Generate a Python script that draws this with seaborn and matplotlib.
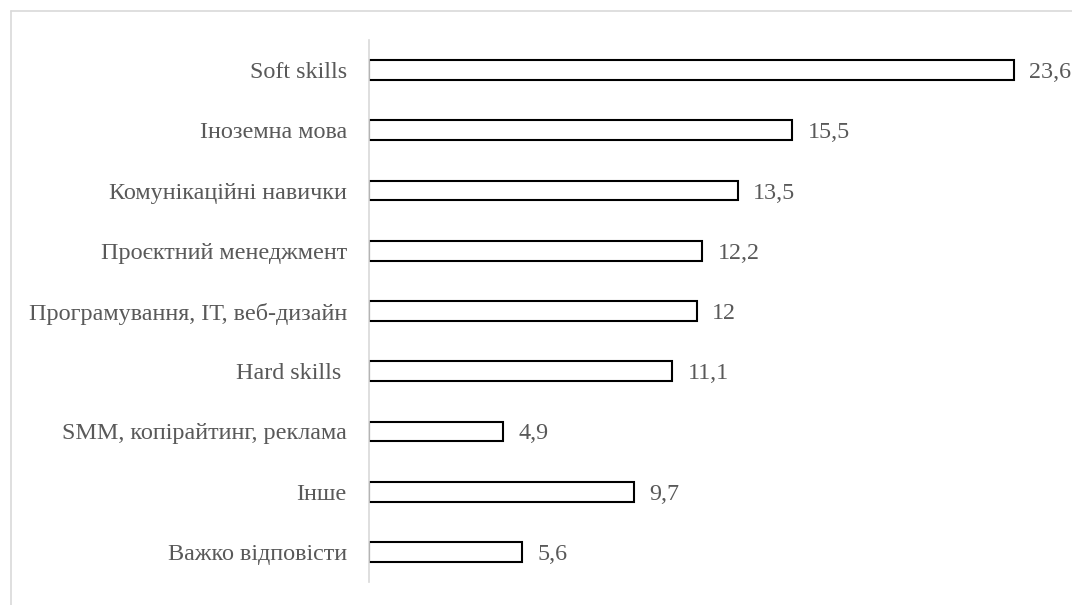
import matplotlib
matplotlib.use('Agg')
import matplotlib.pyplot as plt
import seaborn as sns
import pandas as pd
from matplotlib.lines import Line2D

# Categories and shares (%)
categories = ['Soft skills', 'Іноземна мова', 'Комунікаційні навички',
              'Проєктний менеджмент', 'Програмування, ІТ, веб-дизайн',
              'Hard skills ', 'SMM, копірайтинг, реклама', 'Інше',
              'Важко відповісти']
values = [23.6, 15.5, 13.5, 12.2, 12, 11.1, 4.9, 9.7, 5.6]
value_labels = ['23,6', '15,5', '13,5', '12,2', '12', '11,1', '4,9', '9,7', '5,6']

df = pd.DataFrame({'category': categories, 'value': values})

sns.set_style('white')
plt.rcParams['font.family'] = ['Liberation Serif', 'DejaVu Serif']

fig = plt.figure(figsize=(10.72, 6.05), dpi=100)
W, H = 1072, 605
ax = fig.add_axes([369 / W, 1 - 582 / H, 683 / W, 542 / H])

sns.barplot(data=df, x='value', y='category', orient='h', ax=ax,
            color='white', edgecolor='black', linewidth=1.5, width=0.33)

ax.set_xlim(0, 25)
ax.set_ylim(8.5, -0.5)
ax.set_xlabel('')
ax.set_ylabel('')
ax.set_xticks([])
for s in ['top', 'right', 'bottom']:
    ax.spines[s].set_visible(False)
ax.spines['left'].set_color('#d9d9d9')
ax.spines['left'].set_linewidth(1.2)
ax.tick_params(axis='y', length=0, pad=16, labelsize=17.4, labelcolor='#595959')

for i, (v, lab) in enumerate(zip(values, value_labels)):
    ax.annotate(lab, (v, i), xytext=(11, 0), textcoords='offset points',
                va='center_baseline', ha='left', fontsize=17.4, color='#595959')

# light frame (left and top edges) around the chart area
fig.lines.append(Line2D([10.5 / W, 10.5 / W], [0, 1 - 10.5 / H], transform=fig.transFigure,
                        color='#d9d9d9', linewidth=1.2))
fig.lines.append(Line2D([10.5 / W, 1], [1 - 10.5 / H, 1 - 10.5 / H], transform=fig.transFigure,
                        color='#d9d9d9', linewidth=1.2))

plt.savefig('out.png', dpi=100)
